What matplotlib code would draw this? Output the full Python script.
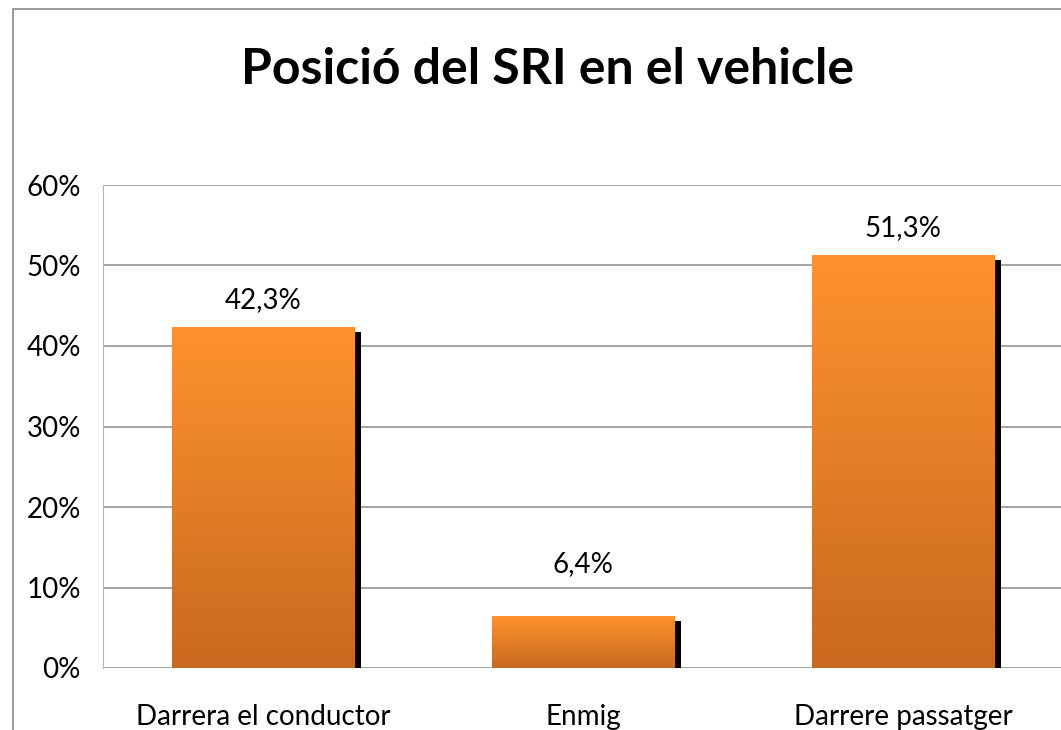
import numpy as np
import matplotlib.pyplot as plt
from matplotlib.patches import Rectangle
from matplotlib.colors import LinearSegmentedColormap

categories = ["Darrera el conductor", "Enmig", "Darrere passatger"]
values = [42.3, 6.4, 51.3]
yticks = [0, 10, 20, 30, 40, 50, 60]

plt.rcParams["font.family"] = ["Lato", "DejaVu Sans"]

fig = plt.figure(figsize=(10.61, 7.3), dpi=100)
ax = fig.add_axes([103 / 1061, 1 - 668 / 730, 960 / 1061, 483 / 730])

# outer chart frame
fig.patches.append(Rectangle((13 / 1061, -0.1), 1.2, 1 - 9 / 730 + 0.1,
                             transform=fig.transFigure, fill=False,
                             edgecolor="#8a8a8a", lw=1.2, zorder=0))

x = np.arange(len(categories))
width = 0.57
cmap = LinearSegmentedColormap.from_list("bar", ["#c8691f", "#ff922e"])
grad = np.linspace(0, 1, 256).reshape(-1, 1)

# shadow bars
ax.bar(x + 0.022, [v - 0.62 for v in values], width, color="black", zorder=2)
bars = ax.bar(x, values, width, color="none", zorder=3)
for b, v in zip(bars, values):
    x0 = b.get_x()
    im = ax.imshow(grad, cmap=cmap, aspect="auto", origin="lower",
                   extent=(x0, x0 + width, 0, v), zorder=3)
    im.set_clip_path(b)
    # small bars get their label pushed further up, like in the original
    off = 3.4 if v > 10 else 6.5
    ax.text(b.get_x() + width / 2, v + off, f"{v:.1f}%".replace(".", ","),
            ha="center", va="center", fontsize=20)

ax.set_xlim(-0.5, 2.5)
ax.set_ylim(0, 60)
ax.set_yticks(yticks)
ax.set_yticklabels([f"{t}%" for t in yticks], fontsize=20)
ax.set_xticks(x)
ax.set_xticklabels(categories, fontsize=20)
ax.tick_params(axis="y", length=0, pad=16)
ax.tick_params(axis="x", length=0, pad=26)
ax.yaxis.grid(True, color="#8c8c8c", lw=1.1)
ax.set_axisbelow(True)
for s in ["top", "right", "bottom"]:
    ax.spines[s].set_visible(False)
ax.spines["left"].set_color("#b5b5b5")

fig.text(548 / 1061, 1 - 69 / 730, "Posició del SRI en el vehicle",
         ha="center", va="center", fontsize=36, fontweight="bold")

fig.savefig("out.png", dpi=100)
